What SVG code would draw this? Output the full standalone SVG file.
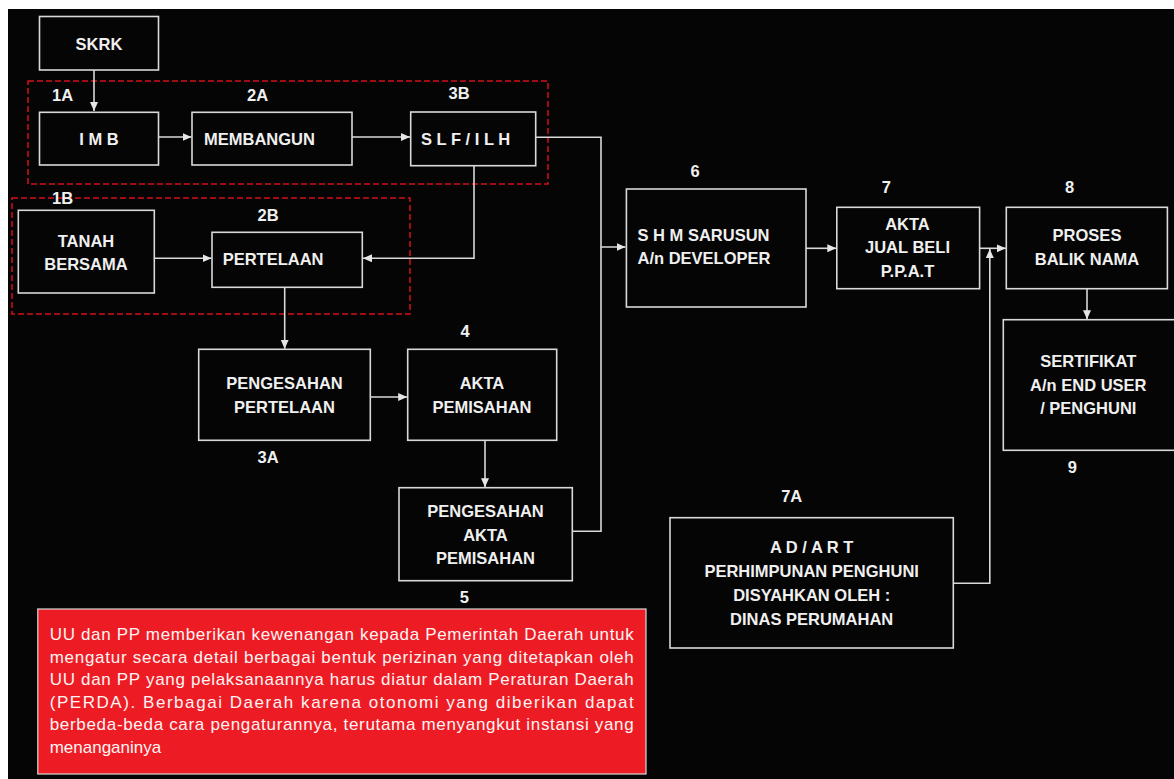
<svg xmlns="http://www.w3.org/2000/svg" width="1174" height="779" viewBox="0 0 1174 779">
<style>
.bx{fill:#050505;stroke:#d9d9d9;stroke-width:1.6}
.t{font-family:"Liberation Sans",Arial,sans-serif;font-weight:bold;font-size:16.5px;fill:#f0f0f0}
.m{text-anchor:middle}
.ln{fill:none;stroke:#d9d9d9;stroke-width:1.6}
.grp{fill:none;stroke:#d01018;stroke-width:1.5;stroke-dasharray:6 3}
.body{font-family:"Liberation Sans",Arial,sans-serif;font-size:17px;fill:#fff4f4}
</style>
<defs>
<marker id="ah" markerUnits="userSpaceOnUse" markerWidth="10" markerHeight="9" refX="9" refY="4" orient="auto">
<path d="M0,0 L9,4 L0,8 z" fill="#e6e6e6"/>
</marker>
</defs>
<rect x="0" y="0" width="1174" height="779" fill="#ffffff"/>
<rect x="8" y="9" width="1166" height="770" fill="#050505"/>

<g id="groups">
<rect class="grp" x="28" y="81" width="520" height="103"/>
<rect class="grp" x="12" y="198" width="398" height="116"/>
</g>

<g id="connectors">
<path class="ln" d="M94,70 V111" marker-end="url(#ah)"/>
<path class="ln" d="M158.7,137 H191.5" marker-end="url(#ah)"/>
<path class="ln" d="M352,137 H410" marker-end="url(#ah)"/>
<path class="ln" d="M535.7,137.3 H601 V247 H625.5" marker-end="url(#ah)"/>
<path class="ln" d="M572.3,531.3 H601 V247"/>
<path class="ln" d="M474,165.7 V258.3 H363" marker-end="url(#ah)"/>
<path class="ln" d="M154.3,258.3 H211.5" marker-end="url(#ah)"/>
<path class="ln" d="M284.7,287.3 V348.8" marker-end="url(#ah)"/>
<path class="ln" d="M370.3,397 H407.2" marker-end="url(#ah)"/>
<path class="ln" d="M485,440.3 V487.2" marker-end="url(#ah)"/>
<path class="ln" d="M806,248.3 H836.3" marker-end="url(#ah)"/>
<path class="ln" d="M979.6,248.3 H1005.8" marker-end="url(#ah)"/>
<path class="ln" d="M953.3,583.3 H989.8 V249" marker-end="url(#ah)"/>
<path class="ln" d="M1087,288.7 V319.2" marker-end="url(#ah)"/>
</g>

<g id="skrk">
<rect class="bx" x="39.5" y="16.5" width="119" height="53.5"/>
<text class="t m" x="99" y="49.5">SKRK</text>
</g>

<g id="imb">
<rect class="bx" x="39.5" y="112.3" width="119" height="52.7"/>
<text class="t m" x="99" y="145">I M B</text>
<text class="t m" x="62.5" y="100.5">1A</text>
</g>

<g id="membangun">
<rect class="bx" x="192" y="112.3" width="160" height="52.7"/>
<text class="t" x="204" y="145">MEMBANGUN</text>
<text class="t m" x="257.5" y="100.5">2A</text>
</g>

<g id="slf">
<rect class="bx" x="410.7" y="112" width="125" height="53.7"/>
<text class="t" x="421" y="145">S L F / I L H</text>
<text class="t m" x="459" y="98.5">3B</text>
</g>

<g id="tanah">
<rect class="bx" x="18.3" y="210.3" width="136" height="82.7"/>
<text class="t m" x="86" y="246.5">TANAH</text>
<text class="t m" x="86" y="270">BERSAMA</text>
<text class="t m" x="62.5" y="204">1B</text>
</g>

<g id="pertelaan">
<rect class="bx" x="212" y="232.3" width="150.3" height="55"/>
<text class="t" x="222.7" y="265">PERTELAAN</text>
<text class="t m" x="268" y="220.5">2B</text>
</g>

<g id="pengesahan-pertelaan">
<rect class="bx" x="198.7" y="349.3" width="171.6" height="91"/>
<text class="t m" x="284.5" y="389">PENGESAHAN</text>
<text class="t m" x="284.5" y="412.7">PERTELAAN</text>
<text class="t m" x="268" y="463.3">3A</text>
</g>

<g id="akta-pemisahan">
<rect class="bx" x="407.7" y="349.3" width="149" height="91"/>
<text class="t m" x="482" y="389">AKTA</text>
<text class="t m" x="482" y="412.7">PEMISAHAN</text>
<text class="t m" x="465" y="336.7">4</text>
</g>

<g id="pengesahan-akta">
<rect class="bx" x="399" y="487.7" width="173.3" height="93"/>
<text class="t m" x="485.5" y="516.7">PENGESAHAN</text>
<text class="t m" x="485.5" y="540.7">AKTA</text>
<text class="t m" x="485.5" y="564.3">PEMISAHAN</text>
<text class="t m" x="464.3" y="603.3">5</text>
</g>

<g id="shm">
<rect class="bx" x="626.4" y="189" width="179.6" height="118"/>
<text class="t" x="637.5" y="241">S H M SARUSUN</text>
<text class="t" x="637.5" y="264.3">A/n DEVELOPER</text>
<text class="t m" x="695.2" y="176.7">6</text>
</g>

<g id="akta-jual-beli">
<rect class="bx" x="836.8" y="207.3" width="142.8" height="81.4"/>
<text class="t m" x="907.5" y="230">AKTA</text>
<text class="t m" x="907.5" y="253.3">JUAL BELI</text>
<text class="t m" x="907.5" y="276.7">P.P.A.T</text>
<text class="t m" x="886.3" y="193.3">7</text>
</g>

<g id="proses">
<rect class="bx" x="1006.3" y="207.3" width="161.1" height="81.4"/>
<text class="t m" x="1087" y="241">PROSES</text>
<text class="t m" x="1087" y="265">BALIK NAMA</text>
<text class="t m" x="1069.7" y="193.3">8</text>
</g>

<g id="sertifikat">
<rect class="bx" x="1003.3" y="319.7" width="180" height="130.6"/>
<text class="t m" x="1088.3" y="366.7">SERTIFIKAT</text>
<text class="t m" x="1088.3" y="390.7">A/n END USER</text>
<text class="t m" x="1088.3" y="414.3">/ PENGHUNI</text>
<text class="t m" x="1072.3" y="473.3">9</text>
</g>

<g id="adart">
<rect class="bx" x="670" y="517.7" width="283.3" height="130.3"/>
<text class="t m" x="811.7" y="553.3">A D / A R T</text>
<text class="t m" x="811.7" y="577.3">PERHIMPUNAN PENGHUNI</text>
<text class="t m" x="811.7" y="601.3">DISYAHKAN OLEH :</text>
<text class="t m" x="811.7" y="625">DINAS PERUMAHAN</text>
<text class="t m" x="791.7" y="501.7">7A</text>
</g>

<g id="note">
<rect x="37.8" y="609" width="608.2" height="165" fill="#ed1c24" stroke="#d9d9d9" stroke-width="1.2"/>
<text class="body" x="49.7" y="640" textLength="584" lengthAdjust="spacing">UU dan PP memberikan kewenangan kepada Pemerintah Daerah untuk</text>
<text class="body" x="49.7" y="662.5" textLength="584" lengthAdjust="spacing">mengatur secara detail berbagai bentuk perizinan yang ditetapkan oleh</text>
<text class="body" x="49.7" y="685" textLength="584" lengthAdjust="spacing">UU dan PP yang pelaksanaannya harus diatur dalam Peraturan Daerah</text>
<text class="body" x="49.7" y="707.5" textLength="584" lengthAdjust="spacing">(PERDA). Berbagai Daerah karena otonomi yang diberikan dapat</text>
<text class="body" x="49.7" y="730" textLength="584" lengthAdjust="spacing">berbeda-beda cara pengaturannya, terutama menyangkut instansi yang</text>
<text class="body" x="49.7" y="753">menanganinya</text>
</g>
</svg>
